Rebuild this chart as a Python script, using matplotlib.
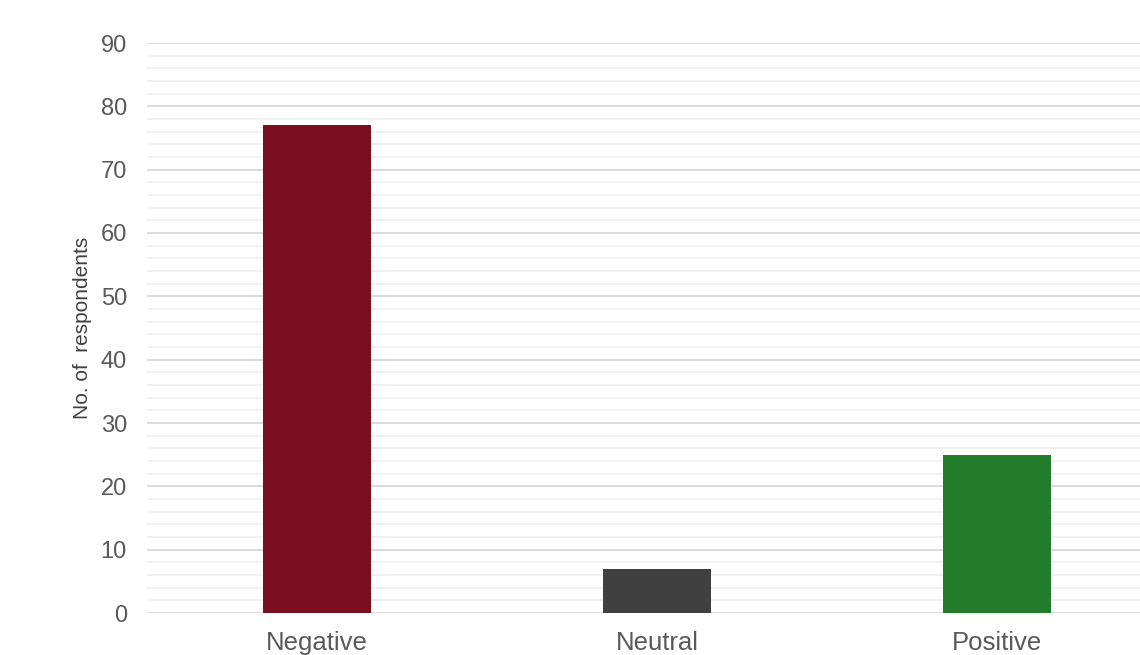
import numpy as np
import matplotlib.pyplot as plt
from matplotlib.ticker import MultipleLocator

# sentiment counts
categories = ["Negative", "Neutral", "Positive"]
respondents = [77, 7, 25]
bar_colors = ["#7a0f20", "#404040", "#237c2a"]

plt.rcParams['font.family'] = ['Liberation Sans', 'DejaVu Sans']

fig = plt.figure(figsize=(11.4, 6.55), dpi=100)
ax = fig.add_axes([147/1140, 42/655, 1020/1140, 570/655])

x = np.arange(len(categories))
ax.bar(x, respondents, width=0.315, color=bar_colors, zorder=3)

ax.set_xlim(-0.5, 2.5)
ax.set_ylim(0, 90)
ax.yaxis.set_major_locator(MultipleLocator(10))
ax.yaxis.set_minor_locator(MultipleLocator(2))
ax.grid(which='major', axis='y', color='#d9d9d9', linewidth=1.3, zorder=0)
ax.grid(which='minor', axis='y', color='#f0f0f0', linewidth=1.3, zorder=0)
ax.set_axisbelow(True)

ax.set_xticks(x)
ax.set_xticklabels(categories)
ax.tick_params(axis='both', which='both', length=0, labelcolor='#595959')
ax.tick_params(axis='y', labelsize=17, pad=14.5)
ax.tick_params(axis='x', labelsize=18.5, pad=13)
for s in ax.spines.values():
    s.set_visible(False)

fig.text(82/1140, 0.499, "No. of  respondents", rotation=90, ha='center', va='center',
         fontsize=15, color='#404040')

fig.savefig("out.png", dpi=100)
